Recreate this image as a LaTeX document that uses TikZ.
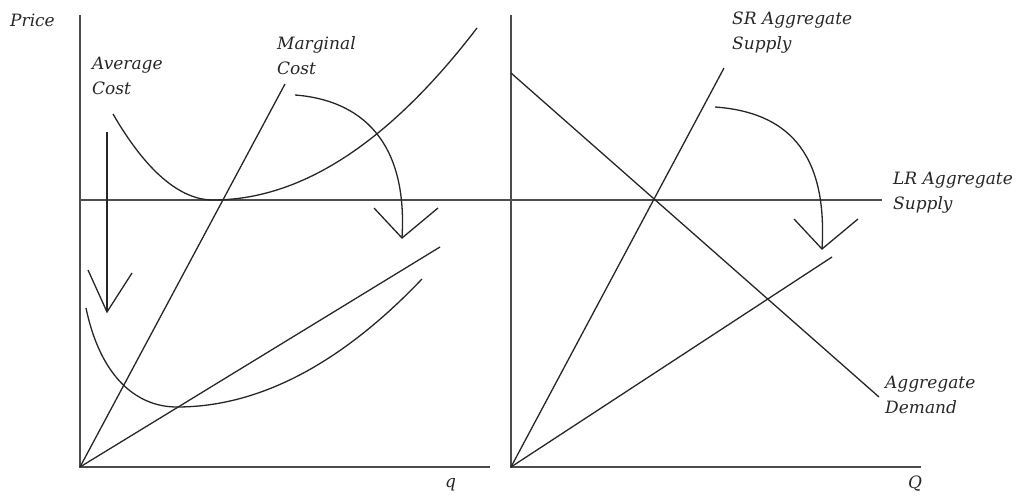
\documentclass[tikz,border=0pt]{standalone}
\usepackage{fontspec}
\setmainfont{DejaVu Serif}
\begin{document}
\begin{tikzpicture}[x=1pt,y=-1pt,
  axis/.style={line width=1.8pt,black!70},
  curve/.style={line width=1.3pt,black!85},
  head/.style={line width=1.3pt,black!85,line join=miter},
  lbl/.style={font=\fontsize{17}{25}\selectfont\itshape,text=black!85,inner sep=0pt,anchor=north west,align=left}]
\useasboundingbox (0,0) rectangle (1021,497);
% axes
\coordinate (o1) at (80,467);
\coordinate (y1) at (80,15);
\coordinate (x1) at (490,467);
\coordinate (o2) at (511,467);
\coordinate (y2) at (511,15);
\coordinate (x2) at (921,467);
\coordinate (hl) at (80,200);
\coordinate (hr) at (882,200);
\draw[axis] (y1) -- (o1) -- (x1);
\draw[axis] (y2) -- (o2) -- (x2);
\draw[axis] (hl) -- (hr);
% left panel
\coordinate (mc) at (285,84);
\draw[curve] (o1) -- (mc);
\draw[curve] (113,114) .. controls (146,171) and (180,200) .. (213,200) .. controls (301,200) and (389,143) .. (477,28);
\coordinate (l1) at (440,247);
\draw[curve] (o1) -- (l1);
\draw[curve] (86,308) .. controls (100,375) and (135,407) .. (177,407) .. controls (259,407) and (341,364) .. (422,279);
\coordinate (a1s) at (107,132);
\coordinate (a1t) at (107,312);
\draw[curve] (a1s) -- (a1t);
\draw[head] (88,270) -- (a1t) -- (132,273);
\coordinate (a2s) at (295,95);
\coordinate (a2t) at (402,238);
\draw[curve] (a2s) .. controls (360,100) and (408,140) .. (a2t);
\draw[head] (374,208) -- (a2t) -- (438,208);
% right panel
\coordinate (ad1) at (511,73);
\coordinate (ad2) at (879,397);
\draw[curve] (ad1) -- (ad2);
\coordinate (sr) at (724,68);
\draw[curve] (o2) -- (sr);
\coordinate (l2) at (832,257);
\draw[curve] (o2) -- (l2);
\coordinate (a3s) at (715,107);
\coordinate (a3t) at (822,249);
\draw[curve] (a3s) .. controls (785,112) and (828,150) .. (a3t);
\draw[head] (794,219) -- (a3t) -- (858,219);
% labels
\node[lbl] (price) at (10,14) {Price};
\node[lbl] (avg) at (92,57) {Average\\Cost};
\node[lbl] (marg) at (277,36) {Marginal\\Cost};
\node[lbl] (sras) at (732,12) {SR Aggregate\\Supply};
\node[lbl] (lras) at (893,172) {LR Aggregate\\Supply};
\node[lbl] (ad) at (885,376) {Aggregate\\Demand};
\node[lbl] (q) at (445,478) {q};
\node[lbl] (Q) at (908,476) {Q};
\end{tikzpicture}
\end{document}
